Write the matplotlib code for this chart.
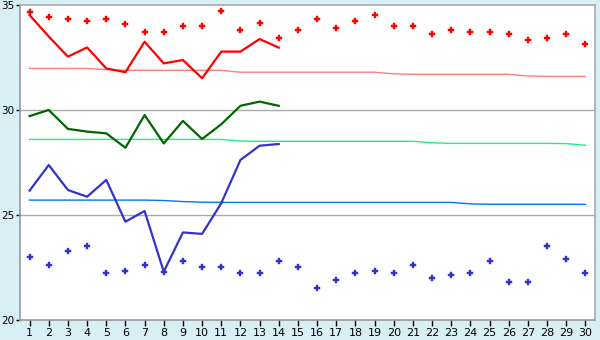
import matplotlib
matplotlib.use("Agg")
import matplotlib.pyplot as plt

days = list(range(1, 31))
line_days = list(range(1, 15))

red_line = [34.52, 33.5, 32.54, 32.98, 31.98, 31.8, 33.25, 32.22, 32.38, 31.51, 32.78, 32.78, 33.38, 32.97]
green_line = [29.71, 30.0, 29.10, 28.97, 28.89, 28.20, 29.76, 28.41, 29.48, 28.62, 29.32, 30.20, 30.40, 30.20]
blue_line = [26.16, 27.38, 26.19, 25.87, 26.67, 24.68, 25.19, 22.30, 24.17, 24.10, 25.56, 27.62, 28.30, 28.38]

red_pts = [34.68, 34.41, 34.32, 34.22, 34.32, 34.11, 33.70, 33.70, 33.98, 33.98,
           34.70, 33.79, 34.13, 33.41, 33.79, 34.32, 33.89, 34.22, 34.51, 33.98,
           33.98, 33.60, 33.79, 33.70, 33.70, 33.60, 33.32, 33.41, 33.60, 33.13]
blue_pts = [22.99, 22.60, 23.30, 23.51, 22.22, 22.32, 22.60, 22.30, 22.79, 22.51,
            22.51, 22.22, 22.22, 22.79, 22.51, 21.51, 21.89, 22.22, 22.32, 22.22,
            22.60, 21.98, 22.13, 22.22, 22.79, 21.79, 21.79, 23.51, 22.89, 22.22]

red_avg = [31.98, 31.98, 31.98, 31.98, 31.92, 31.89, 31.89, 31.89, 31.89, 31.89,
           31.89, 31.80, 31.80, 31.80, 31.80, 31.80, 31.80, 31.80, 31.80, 31.72,
           31.70, 31.70, 31.70, 31.70, 31.70, 31.70, 31.62, 31.60, 31.60, 31.60]
green_avg = [28.60, 28.60, 28.60, 28.60, 28.60, 28.60, 28.60, 28.60, 28.60, 28.60,
             28.60, 28.52, 28.51, 28.51, 28.51, 28.51, 28.51, 28.51, 28.51, 28.51,
             28.51, 28.44, 28.41, 28.41, 28.41, 28.41, 28.41, 28.41, 28.40, 28.32]
blue_avg = [25.71, 25.71, 25.71, 25.71, 25.71, 25.71, 25.71, 25.69, 25.64, 25.61,
            25.60, 25.60, 25.60, 25.60, 25.60, 25.60, 25.60, 25.60, 25.60, 25.60,
            25.60, 25.60, 25.60, 25.53, 25.51, 25.51, 25.51, 25.51, 25.51, 25.51]

y_ticks = [20, 25, 30, 35]

bg = "#d9eff6"
fig = plt.figure(figsize=(6, 3.4), dpi=100, facecolor=bg)
ax = fig.add_axes([20/600, 1-320/340, 575/600, 315/340])
ax.set_facecolor("white")

for y in [25, 30]:
    ax.axhline(y, color="#aaaaaa", lw=1.0, zorder=1)

ax.plot(days, red_avg, color="#ff7f7f", lw=1.0, zorder=2)
ax.plot(days, green_avg, color="#22ee88", lw=1.0, zorder=2)
ax.plot(days, blue_avg, color="#0077ff", lw=1.0, zorder=2)

ax.plot(line_days, red_line, color="#ff0000", lw=1.6, zorder=3)
ax.plot(line_days, green_line, color="#006600", lw=1.6, zorder=3)
ax.plot(line_days, blue_line, color="#3333cc", lw=1.6, zorder=3)

ax.plot(days, red_pts, ls="none", marker="P", ms=3.8, color="#ff0000", mec="#ff0000", mew=0.3, zorder=4)
ax.plot(days, blue_pts, ls="none", marker="P", ms=3.8, color="#3333cc", mec="#3333cc", mew=0.3, zorder=4)

ax.set_xlim(0.5, 30.5)
ax.set_ylim(20, 35)
ax.set_xticks(days)
ax.set_xticklabels([str(d) for d in days])
ax.set_yticks(y_ticks)
ax.set_yticklabels([str(t) for t in y_ticks])
ax.tick_params(axis="x", direction="out", length=4, width=1, color="#000000",
               labelsize=8, labelcolor="#000000", pad=2)
ax.tick_params(axis="y", direction="out", length=3, width=1, color="#000000",
               labelsize=7.5, labelcolor="#000000", pad=1)

for s in ["top", "right"]:
    ax.spines[s].set_color("#aaaaaa")
    ax.spines[s].set_linewidth(1.2)
for s in ["left", "bottom"]:
    ax.spines[s].set_color("#999999")
    ax.spines[s].set_linewidth(1.2)

fig.savefig("out.png", dpi=100, facecolor=bg)
